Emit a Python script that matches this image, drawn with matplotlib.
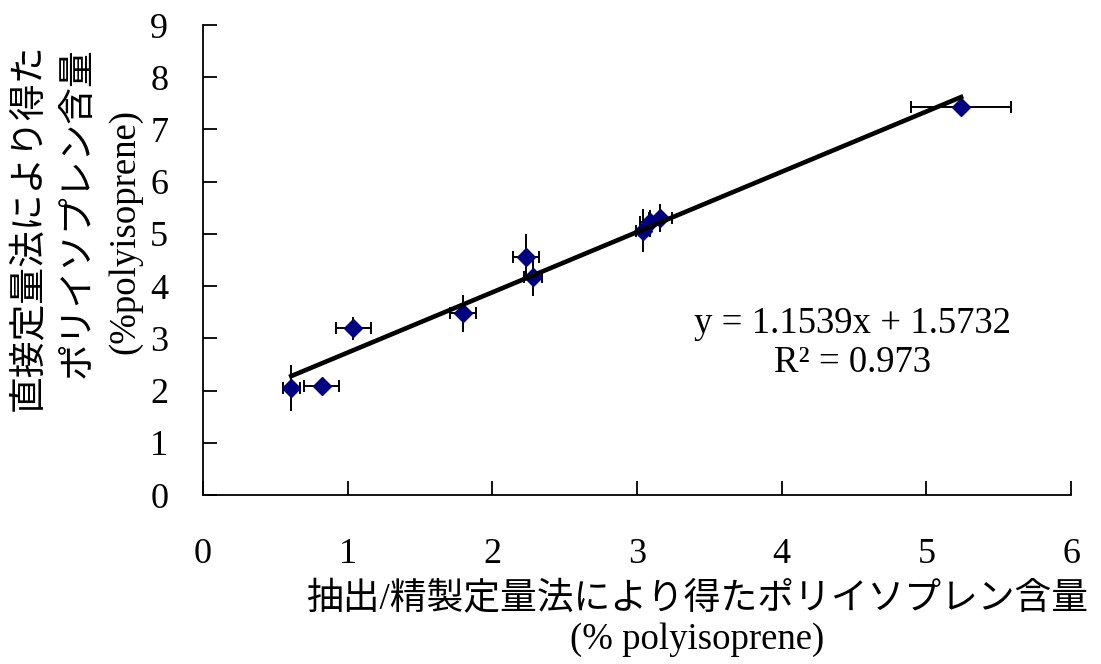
import numpy as np
import matplotlib
matplotlib.use("Agg")
import matplotlib.pyplot as plt

plt.rcParams['font.family'] = ['Liberation Serif', 'Noto Sans CJK JP']

# data
x = [0.61, 0.82, 1.04, 1.80, 2.23, 2.28, 3.04, 3.09, 3.16, 5.24]
y = [2.05, 2.08, 3.19, 3.48, 4.55, 4.17, 5.06, 5.22, 5.30, 7.43]
xerr = [0.06, 0.12, 0.12, 0.09, 0.09, 0.06, 0.05, 0.07, 0.08, 0.345]
yerr = [0.44, 0.04, 0.22, 0.35, 0.44, 0.36, 0.41, 0.23, 0.27, 0.04]
slope, intercept = 1.1539, 1.5732
eq_line = "y = 1.1539x + 1.5732"
r2_line = "R² = 0.973"

fig = plt.figure(figsize=(11.01, 6.64), dpi=100)
ax = fig.add_axes([203/1101, 1-495/664, (1071-203)/1101, (495-25)/664])

# error bars: horizontal with caps, vertical without
ax.errorbar(x, y, xerr=xerr, fmt='none', ecolor='black', elinewidth=1.4, capsize=4.5, capthick=1.4, zorder=2)
ax.errorbar(x, y, yerr=yerr, fmt='none', ecolor='black', elinewidth=1.4, capsize=0, zorder=2)
ax.plot(x, y, 'D', color='#000080', ms=9.5, zorder=3)

# trend line
xl = np.array([min(x), max(x)])
ax.plot(xl, slope*xl + intercept, color='black', lw=3.3, zorder=4)

ax.set_xlim(0, 6)
ax.set_ylim(0, 9)
ax.set_xticks(range(0, 7))
ax.set_yticks(range(0, 10))
ax.spines['top'].set_visible(False)
ax.spines['right'].set_visible(False)
for s in ['left', 'bottom']:
    ax.spines[s].set_linewidth(1.3)
ax.tick_params(axis='both', direction='in', length=10, width=1.3, labelsize=26)
ax.tick_params(axis='x', pad=31)
ax.tick_params(axis='y', pad=25)

# regression text (display pixels, origin bottom-left)
ax.text(852, 664-324, eq_line, transform=None, fontsize=26.5, ha='center', va='center')
ax.text(852, 664-363, r2_line, transform=None, fontsize=26.5, ha='center', va='center')

# axis titles
fig.text(697/1101, 1-600/664, "抽出/精製定量法により得たポリイソプレン含量", fontsize=26.5, ha='center', va='center')
fig.text(697/1101, 1-640/664, "(% polyisoprene)", fontsize=26.5, ha='center', va='center')
fig.text(30/1101, 1-227/664, "直接定量法により得た", fontsize=26.5, ha='center', va='center', rotation=90)
fig.text(78/1101, 1-213/664, "ポリイソプレン含量", fontsize=26.5, ha='center', va='center', rotation=90)
fig.text(125/1101, 1-232/664, "(%polyisoprene)", fontsize=26.5, ha='center', va='center', rotation=90)

fig.savefig("out.png", dpi=100)
